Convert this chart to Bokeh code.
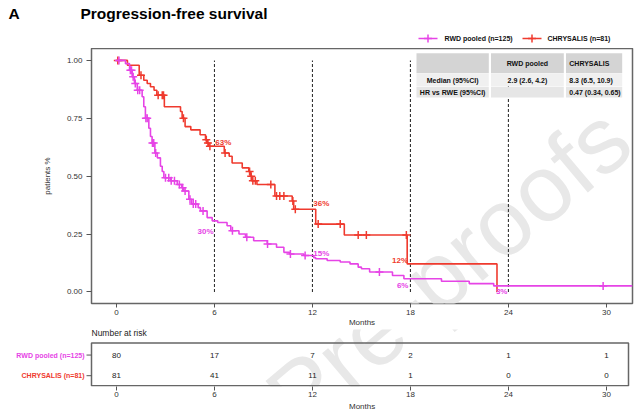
import numpy as np
from bokeh.plotting import figure
from bokeh.layouts import column
from bokeh.models import Range1d, FixedTicker, NumeralTickFormatter, Label, Title
from bokeh.core.properties import value
from bokeh.embed import file_html
from bokeh.resources import INLINE

# ---------------- data ----------------
series_names = ["RWD pooled (n=125)", "CHRYSALIS (n=81)"]

rwd_time = [0, 0.55, 0.8, 0.96, 1.1, 1.27, 1.57, 1.67, 1.77, 1.98, 2.08, 2.18, 2.35, 2.5, 2.69,
            2.8, 2.9, 3.3, 3.72, 4.0, 4.12, 4.43, 4.6, 5.0, 5.14, 5.55, 5.86, 6.2, 6.77, 7.0,
            7.5, 7.9, 8.4, 9.23, 9.8, 10.25, 10.6, 11.47, 12.08, 12.2, 12.9, 13.7, 14.3, 14.8,
            15.0, 15.5, 16.9, 17.6, 19.9, 21.6, 23.1]
rwd_surv = [1.0, 0.986, 0.957, 0.929, 0.90, 0.871, 0.843, 0.80, 0.75, 0.707, 0.671, 0.643, 0.60,
            0.579, 0.543, 0.52, 0.493, 0.48, 0.464, 0.45, 0.436, 0.40, 0.38, 0.364, 0.35, 0.321,
            0.307, 0.30, 0.286, 0.264, 0.25, 0.236, 0.221, 0.207, 0.193, 0.171, 0.164, 0.157,
            0.148, 0.143, 0.136, 0.129, 0.121, 0.107, 0.10, 0.086, 0.071, 0.057, 0.046, 0.036, 0.026]
rwd_censor = [0.15, 0.85, 0.92, 1.02, 1.15, 1.3, 1.42, 1.8, 1.88, 2.2, 2.28, 2.4, 3.0, 3.2, 3.35,
              3.55, 3.85, 4.05, 4.2, 4.5, 4.7, 4.85, 5.3, 7.1, 7.98, 9.25, 10.65, 11.55, 16.1, 29.8]

chr_time = [0, 0.67, 1.39, 1.67, 1.88, 2.08, 2.3, 2.47, 2.93, 3.92, 4.02, 4.2, 4.55, 5.12, 5.45,
            5.55, 5.65, 6.6, 6.9, 7.08, 7.7, 8.1, 8.2, 8.3, 8.6, 9.7, 10.76, 10.85, 12.2, 13.95,
            17.8, 23.3]
chr_surv = [1.0, 0.979, 0.936, 0.914, 0.90, 0.886, 0.871, 0.85, 0.80, 0.779, 0.75, 0.714, 0.70,
            0.679, 0.657, 0.643, 0.629, 0.60, 0.586, 0.557, 0.536, 0.52, 0.50, 0.48, 0.464, 0.414,
            0.393, 0.357, 0.293, 0.246, 0.121, 0.0]
chr_censor = [0.08, 1.5, 2.55, 2.8, 2.88, 4.1, 5.5, 5.6, 5.72, 6.65, 8.15, 8.25, 8.35, 8.5, 9.45,
              9.8, 10.0, 10.25, 10.8, 10.95, 12.35, 13.7, 14.8, 15.3, 17.75]

landmarks = [6, 12, 18, 24]
rwd_pct = ["30%", "15%", "6%", "3%"]          # at 6, 12, 18, 24
chr_pct = ["63%", "36%", "12%"]                # at 6, 12, 18

risk_times = [0, 6, 12, 18, 24, 30]
rwd_risk = [80, 17, 7, 2, 1, 1]
chr_risk = [81, 41, 11, 1, 0, 0]

tbl_header = ["", "RWD pooled", "CHRYSALIS"]
tbl_row1 = ["Median (95%CI)", "2.9 (2.6, 4.2)", "8.3 (6.5, 10.9)"]
tbl_row2 = ["HR vs RWE (95%CI)", "", "0.47 (0.34, 0.65)"]

x_ticks = [0, 6, 12, 18, 24, 30]
y_ticks = [0, 0.25, 0.5, 0.75, 1.0]

# ---------------- style / layout ----------------
MAG = "#e644e6"
RED = "#ef3a2e"
FONT = "Liberation Sans"
TXT = "#333333"
W = 636
X_ORIGIN_PX, PX_PER_MONTH = 116.0, 16.33      # x pixel of month 0, pixels per month
WM_X, WM_Y = 448, 268                          # watermark centre (page pixels)


def tx(px):
    return (px - X_ORIGIN_PX) / PX_PER_MONTH


X0, X1 = tx(91), tx(632)


def surv_at(times, surv, t):
    i = np.searchsorted(np.asarray(times), t, side="right") - 1
    return surv[i]


def style_axis(ax):
    ax.axis_line_color = None
    ax.major_tick_line_color = "#555555"
    ax.major_tick_in = 0
    ax.major_tick_out = 4
    ax.minor_tick_line_color = None
    ax.major_label_text_font = FONT
    ax.major_label_text_font_size = "8px"
    ax.major_label_text_color = TXT
    ax.major_label_standoff = 2
    ax.axis_label_text_font = FONT
    ax.axis_label_text_font_size = "8px"
    ax.axis_label_text_font_style = "normal"
    ax.axis_label_text_color = TXT
    ax.axis_label_standoff = 0


def watermark(fig, x, y):
    fig.add_layout(Label(x=x, y=y, text="Pre-proofs", angle=40, angle_units="deg",
                         text_align="center", text_baseline="middle", text_font=FONT,
                         text_font_size="94px", text_color="#e8e8e8", level="underlay"))


# ---------------- top strip: title + legend (pixel coordinates) ----------------
s = figure(width=W, height=48, x_range=Range1d(0, W), y_range=Range1d(48, 0),
           x_axis_location=None, y_axis_location=None, output_backend="svg",
           toolbar_location=None, min_border=0, frame_align=False)
s.grid.visible = False
s.outline_line_color = None
s.text(x=[8, 80], y=[13, 13], text=["A", "Progression-free survival"], text_baseline="middle",
       text_font=value(FONT), text_font_style="bold", text_font_size="15.5px", text_color="black")
leg_x = [418, 522]          # left end of each legend key
leg_txt_x = [444, 547]
leg_y = 38
leg_col = [MAG, RED]
s.segment(x0=leg_x, x1=[v + 19 for v in leg_x], y0=[leg_y] * 2, y1=[leg_y] * 2,
          line_color=leg_col, line_width=1.6)
s.scatter(x=[v + 9.5 for v in leg_x], y=[leg_y] * 2, marker="cross", size=8,
          line_color=leg_col, line_width=1.5)
s.text(x=leg_txt_x, y=[leg_y] * 2, text=series_names, text_baseline="middle",
       text_font=value(FONT), text_font_style="bold", text_font_size="7px", text_color="#111111")

# ---------------- main KM plot ----------------
p = figure(width=W, height=281, x_range=Range1d(X0, X1), y_range=Range1d(-0.050, 1.0514),
           output_backend="svg", toolbar_location=None, frame_align=False,
           min_border_left=91, min_border_right=W - 632, min_border_top=0, min_border_bottom=24)
p.grid.visible = False
p.outline_line_color = "#666666"
p.outline_line_width = 1.5
p.outline_line_alpha = 1.0
for ax in (p.xaxis[0], p.yaxis[0]):
    style_axis(ax)
p.xaxis.ticker = FixedTicker(ticks=x_ticks)
p.xaxis.axis_label = "Months"
p.yaxis.ticker = FixedTicker(ticks=y_ticks)
p.yaxis.formatter = NumeralTickFormatter(format="0.00")
p.yaxis.axis_label = "patients %"
p.yaxis.major_tick_out = 5
p.yaxis.major_label_standoff = 4
p.yaxis.axis_label_standoff = 12

Y_PX = 233.3                        # pixels per unit of survival
watermark(p, tx(WM_X), (293.3 - WM_Y) / Y_PX)

# dashed landmark lines
p.segment(x0=landmarks, y0=[min(y_ticks)] * len(landmarks), x1=landmarks,
          y1=[max(y_ticks)] * len(landmarks), line_color="#333333", line_width=1.1, line_dash="3 2")

# summary table
col_l = [tx(416), tx(490.5), tx(565.5)]
col_r = [tx(488.3), tx(563.3), tx(621.7)]
row_t = [1.031, 0.942, 0.885]
row_b = [0.944, 0.887, 0.840]
row_fill = ["#d4d4d4", "#f0f0f0", "#e6e6e6"]
for ri in range(3):
    p.quad(left=col_l, right=col_r, top=[row_t[ri]] * 3, bottom=[row_b[ri]] * 3,
           fill_color=row_fill[ri], line_color=None)
rows = [tbl_header, tbl_row1, tbl_row2]
for ri, row in enumerate(rows):
    ym = (row_t[ri] + row_b[ri]) / 2
    for ci, txt in enumerate(row):
        if not txt:
            continue
        if ci == 2:
            xx, al = col_l[ci] + 0.2, "left"
        else:
            xx, al = (col_l[ci] + col_r[ci]) / 2, "center"
        p.text(x=[xx], y=[ym], text=[txt], text_align=al, text_baseline="middle",
               text_font=value(FONT), text_font_style="bold", text_font_size="7px",
               text_color="#111111")

# KM curves
p.step(x=chr_time, y=chr_surv, mode="after", line_color=RED, line_width=1.6)
p.scatter(x=chr_censor, y=[surv_at(chr_time, chr_surv, t) for t in chr_censor],
          marker="cross", size=8, line_color=RED, line_width=1.5)
p.step(x=rwd_time + [X1], y=rwd_surv + [rwd_surv[-1]], mode="after",
       line_color=MAG, line_width=1.6)
p.scatter(x=rwd_censor, y=[surv_at(rwd_time, rwd_surv, t) for t in rwd_censor],
          marker="cross", size=8, line_color=MAG, line_width=1.5)

# landmark percentages
chr_dx = [0.05, 0.05, -0.15]
chr_dy = [0.016, 0.026, 0.013]
chr_al = ["left", "left", "right"]
for t, txt, dx, dy, al in zip(landmarks, chr_pct, chr_dx, chr_dy, chr_al):
    p.add_layout(Label(x=t + dx, y=surv_at(chr_time, chr_surv, t) + dy, text=txt, text_align=al,
                       text_baseline="middle", text_font=FONT, text_font_style="bold",
                       text_font_size="8px", text_color=RED))
rwd_dx = [-0.06, 0.05, -0.12, -0.06]
rwd_dy = [-0.044, 0.011, -0.03, -0.024]
rwd_al = ["right", "left", "right", "right"]
for t, txt, dx, dy, al in zip(landmarks, rwd_pct, rwd_dx, rwd_dy, rwd_al):
    p.add_layout(Label(x=t + dx, y=surv_at(rwd_time, rwd_surv, t) + dy, text=txt, text_align=al,
                       text_baseline="middle", text_font=FONT, text_font_style="bold",
                       text_font_size="8px", text_color=MAG))

# ---------------- risk table ----------------
ROW_PX = 21.0                      # pixels between the two rows
RB = 1 - 11 / ROW_PX               # frame bottom (box bottom)
RT = 2 + 26 / ROW_PX               # frame top
BOX_T = 2 + 12.3 / ROW_PX
r = figure(width=W, height=81, x_range=Range1d(tx(0), tx(W)), y_range=Range1d(RB, RT),
           y_axis_location=None, output_backend="svg", toolbar_location=None, frame_align=False,
           min_border_left=0, min_border_right=0, min_border_top=0, min_border_bottom=23)
r.grid.visible = False
r.outline_line_color = None
style_axis(r.xaxis[0])
r.xaxis.ticker = FixedTicker(ticks=x_ticks)
r.xaxis.major_label_standoff = 1
# axis title centred under the table box rather than under the full-width frame
r.add_layout(Title(text="Months", align="left", offset=(91 + 632) / 2 - 13, standoff=0,
                   text_font=FONT, text_font_size="8px", text_font_style="normal",
                   text_color=TXT), "below")

watermark(r, tx(WM_X), 2 + (355 - WM_Y) / ROW_PX)

# box and row ticks
r.quad(left=[X0], right=[tx(628)], top=[BOX_T], bottom=[RB + 0.75 / ROW_PX],
       fill_color=None, line_color="#666666", line_width=1.5)
r.segment(x0=[tx(86)] * 2, x1=[X0] * 2, y0=[2, 1], y1=[2, 1], line_color="#555555", line_width=1)

r.text(x=risk_times, y=[2] * len(risk_times), text=[str(v) for v in rwd_risk],
       text_align="center", text_baseline="middle", text_font=value(FONT),
       text_font_size="8px", text_color="#222222")
r.text(x=risk_times, y=[1] * len(risk_times), text=[str(v) for v in chr_risk],
       text_align="center", text_baseline="middle", text_font=value(FONT),
       text_font_size="8px", text_color="#222222")

r.text(x=[tx(84)], y=[2], text=[series_names[0]], text_align="right", text_baseline="middle",
       text_font=value(FONT), text_font_style="bold", text_font_size="7px", text_color=MAG)
r.text(x=[tx(84)], y=[1], text=[series_names[1]], text_align="right", text_baseline="middle",
       text_font=value(FONT), text_font_style="bold", text_font_size="7px", text_color=RED)
r.text(x=[X0], y=[2 + 22 / ROW_PX], text=["Number at risk"], text_align="left",
       text_baseline="middle", text_font=value(FONT), text_font_size="8.5px",
       text_color="#222222")

layout = column(s, p, r, spacing=0)
open("out.html", "w").write(file_html(layout, INLINE))
